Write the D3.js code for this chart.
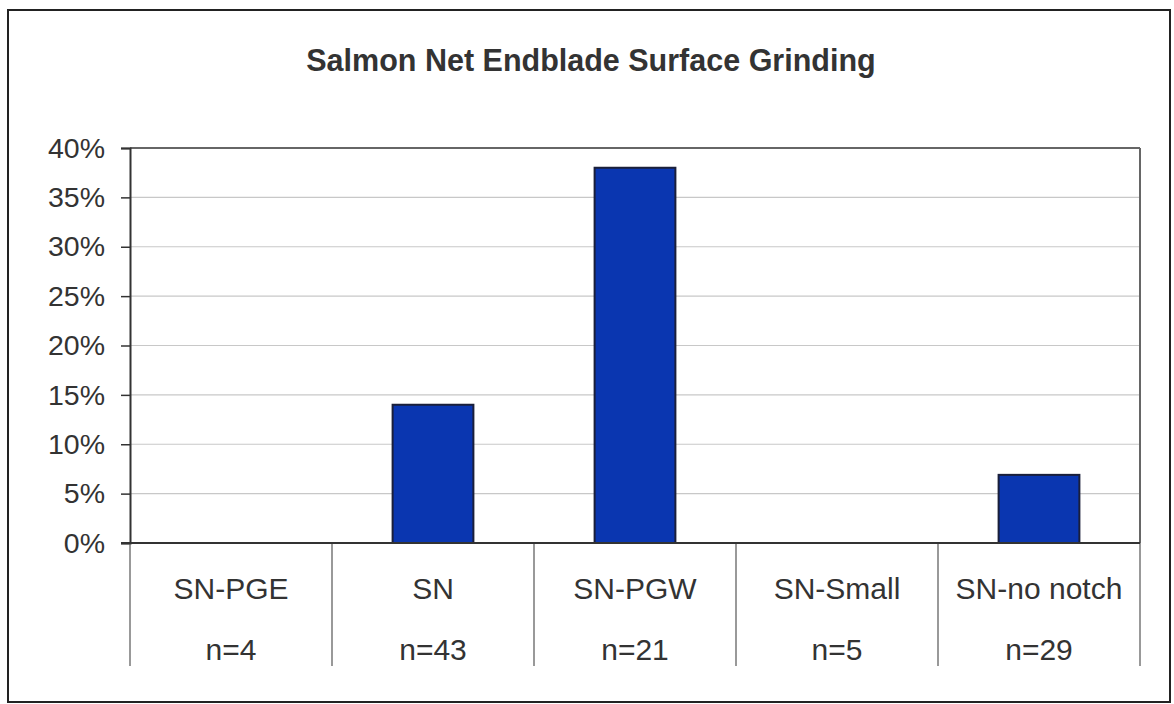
<!DOCTYPE html>
<html>
<head>
<meta charset="utf-8">
<script src="https://cdn.jsdelivr.net/npm/d3@7"></script>
<style>
  body { margin: 0; background: #fff; }
  text { font-family: "Liberation Sans", Arial, sans-serif; fill: #333; }
</style>
</head>
<body>
<div id="chart"></div>
<script>
const categories = ["SN-PGE", "SN", "SN-PGW", "SN-Small", "SN-no notch"];
const sampleSizes = ["n=4", "n=43", "n=21", "n=5", "n=29"];
const grinding = [0, 0.14, 0.38, 0, 0.069];
const yTicks = [0, 0.05, 0.10, 0.15, 0.20, 0.25, 0.30, 0.35, 0.40];
const title = "Salmon Net Endblade Surface Grinding";

const W = 1174, H = 704;
const plot = { left: 130, right: 1140, top: 148, bottom: 543 };

const svg = d3.select("#chart").append("svg")
  .attr("width", W)
  .attr("height", H);

// outer chart frame
svg.append("rect")
  .attr("x", 8).attr("y", 10)
  .attr("width", 1162).attr("height", 692)
  .attr("fill", "#fff")
  .attr("stroke", "#222")
  .attr("stroke-width", 2);

svg.append("text")
  .attr("x", 591)
  .attr("y", 71)
  .attr("text-anchor", "middle")
  .style("font-size", "30.5px")
  .style("font-weight", "bold")
  .text(title);

const x = d3.scaleBand()
  .domain(categories)
  .range([plot.left, plot.right])
  .paddingInner(0.6)
  .paddingOuter(0.3);

const band = d3.scaleBand()
  .domain(categories)
  .range([plot.left, plot.right]);

const y = d3.scaleLinear()
  .domain([0, 0.4])
  .range([plot.bottom, plot.top]);

// gridlines
svg.append("g")
  .selectAll("line")
  .data(yTicks.slice(1))
  .join("line")
  .attr("x1", plot.left).attr("x2", plot.right)
  .attr("y1", d => y(d)).attr("y2", d => y(d))
  .attr("stroke", d => d === 0.4 ? "#666" : "#c8c8c8")
  .attr("stroke-width", d => d === 0.4 ? 2 : 1.2);

// right edge of plot area
svg.append("line")
  .attr("x1", plot.right).attr("x2", plot.right)
  .attr("y1", plot.top).attr("y2", plot.bottom)
  .attr("stroke", "#666")
  .attr("stroke-width", 2);

// y axis
const yAxis = svg.append("g")
  .attr("transform", `translate(${plot.left},0)`)
  .call(d3.axisLeft(y).tickValues(yTicks).tickFormat(d3.format(".0%")).tickSize(9).tickPadding(16));
yAxis.select(".domain").attr("stroke", "#333").attr("stroke-width", 2);
yAxis.selectAll(".tick line").attr("stroke", "#333").attr("stroke-width", 1.5);
yAxis.selectAll(".tick text")
  .style("font-size", "28.5px")
  .style("font-family", "'Liberation Sans', Arial, sans-serif")
  .attr("fill", "#333");

// bars
svg.append("g")
  .selectAll("rect")
  .data(categories.map((c, i) => ({ c, v: grinding[i] })).filter(d => d.v > 0))
  .join("rect")
  .attr("x", d => x(d.c))
  .attr("y", d => y(d.v))
  .attr("width", x.bandwidth())
  .attr("height", d => y(0) - y(d.v))
  .attr("fill", "#0a36b0")
  .attr("stroke", "#1a1f3a")
  .attr("stroke-width", 2);

// category table lines
svg.append("g")
  .selectAll("line")
  .data(categories.map(c => band(c)).concat([plot.right]))
  .join("line")
  .attr("x1", d => d).attr("x2", d => d)
  .attr("y1", plot.bottom).attr("y2", 666)
  .attr("stroke", "#555")
  .attr("stroke-width", 1.2);

// x axis baseline
svg.append("line")
  .attr("x1", plot.left - 9).attr("x2", plot.right)
  .attr("y1", plot.bottom).attr("y2", plot.bottom)
  .attr("stroke", "#333")
  .attr("stroke-width", 2);

svg.append("g")
  .selectAll("text")
  .data(categories)
  .join("text")
  .attr("x", d => band(d) + band.bandwidth() / 2)
  .attr("y", 599)
  .attr("text-anchor", "middle")
  .style("font-size", "30px")
  .text(d => d);

svg.append("g")
  .selectAll("text")
  .data(sampleSizes)
  .join("text")
  .attr("x", (d, i) => band(categories[i]) + band.bandwidth() / 2)
  .attr("y", 660)
  .attr("text-anchor", "middle")
  .style("font-size", "30px")
  .text(d => d);
</script>
</body>
</html>
